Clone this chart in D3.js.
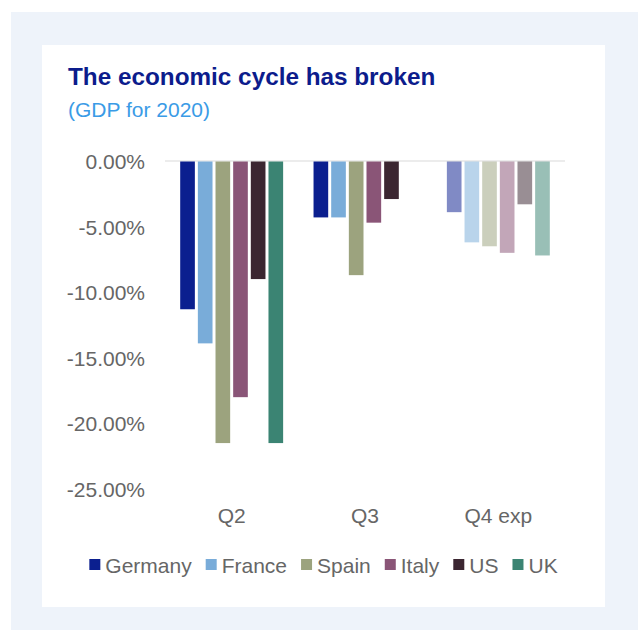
<!DOCTYPE html>
<html>
<head>
<meta charset="utf-8">
<script src="https://cdn.jsdelivr.net/npm/d3@7"></script>
<style>
  html, body { margin: 0; padding: 0; background: #ffffff; }
  svg { display: block; font-family: "Liberation Sans", Arial, sans-serif; }
</style>
</head>
<body>
<svg id="chart" width="638" height="630"></svg>
<script>
// Quarterly GDP change, 2020 (%)
const quarters = ["Q2", "Q3", "Q4 exp"];
const countries = ["Germany", "France", "Spain", "Italy", "US", "UK"];
const germany = [-11.3, -4.3, -3.9];
const france  = [-13.9, -4.3, -6.2];
const spain   = [-21.5, -8.7, -6.5];
const italy   = [-18.0, -4.7, -7.0];
const us      = [-9.0, -2.9, -3.3];
const uk      = [-21.5, null, -7.2];
const yTicks  = [0, -5, -10, -15, -20, -25];

const seriesValues = [germany, france, spain, italy, us, uk];
const colors = ["#0b1f8f", "#79acd9", "#9ca37e", "#8a5577", "#3b2631", "#3b8473"];

const svg = d3.select("#chart");

// page background and card
svg.append("rect").attr("x", 11).attr("y", 12).attr("width", 627).attr("height", 618).attr("fill", "#eef3fa");
svg.append("rect").attr("x", 42).attr("y", 45).attr("width", 563).attr("height", 562).attr("fill", "#ffffff");

// titles
svg.append("text").attr("x", 68).attr("y", 85)
  .attr("font-size", 24.3).attr("font-weight", "bold").attr("fill", "#0c1c8c")
  .text("The economic cycle has broken");
svg.append("text").attr("x", 68).attr("y", 117)
  .attr("font-size", 21).attr("fill", "#3a9be6")
  .text("(GDP for 2020)");

// scales
const x0 = d3.scaleBand().domain(quarters).range([165, 565]).paddingInner(0.228).paddingOuter(0.114);
const x1 = d3.scaleBand().domain(countries).range([0, x0.bandwidth()]).paddingInner(0.17);
const y = d3.scaleLinear().domain([-25, 0]).range([489, 161]);

// y axis labels (plain hyphen for the sign)
const yAxis = d3.axisLeft(y).tickValues(yTicks).tickSize(0).tickPadding(0)
  .tickFormat(d => d3.format(".2f")(d).replace("\u2212", "-") + "%");
const yG = svg.append("g").attr("transform", "translate(145,0)").call(yAxis);
yG.select(".domain").remove();
yG.selectAll("text").attr("font-size", 21).attr("fill", "#666666")
  .attr("font-family", "Liberation Sans, Arial, sans-serif").attr("dy", "0.36em");

// zero line
svg.append("line").attr("x1", 165).attr("x2", 565).attr("y1", y(0)).attr("y2", y(0))
  .attr("stroke", "#d9d9d9").attr("stroke-width", 1);

// bars
const groups = svg.append("g").selectAll("g").data(quarters).join("g")
  .attr("transform", d => `translate(${x0(d)},0)`);
groups.each(function(q, qi) {
  const data = countries.map((c, ci) => ({ c, ci, v: seriesValues[ci][qi] })).filter(d => d.v !== null);
  d3.select(this).selectAll("rect").data(data).join("rect")
    .attr("x", d => x1(d.c))
    .attr("width", x1.bandwidth())
    .attr("y", y(0) + 0.5)
    .attr("height", d => y(d.v) - y(0) - 0.5)
    .attr("fill", d => colors[d.ci])
    .attr("fill-opacity", q === "Q4 exp" ? 0.52 : 1);
});

// x axis labels
const xAxis = d3.axisBottom(x0).tickSize(0).tickPadding(0);
const xG = svg.append("g").attr("transform", "translate(0,523)").call(xAxis);
xG.select(".domain").remove();
xG.selectAll("text").attr("font-size", 21).attr("fill", "#666666")
  .attr("font-family", "Liberation Sans, Arial, sans-serif").attr("dy", 0);

// legend, centred on the card
const legend = svg.append("g");
let cx = 0;
countries.forEach((c, i) => {
  const item = legend.append("g").attr("transform", `translate(${cx},0)`);
  item.append("rect").attr("x", 0).attr("y", -6).attr("width", 11).attr("height", 11).attr("fill", colors[i]);
  const t = item.append("text").attr("x", 16).attr("y", 0).attr("dy", "0.36em")
    .attr("font-size", 21).attr("fill", "#666666").text(c);
  cx += 16 + t.node().getComputedTextLength() + 14;
});
const legendWidth = cx - 14;
legend.attr("transform", `translate(${323.5 - legendWidth / 2},565)`);
</script>
</body>
</html>
